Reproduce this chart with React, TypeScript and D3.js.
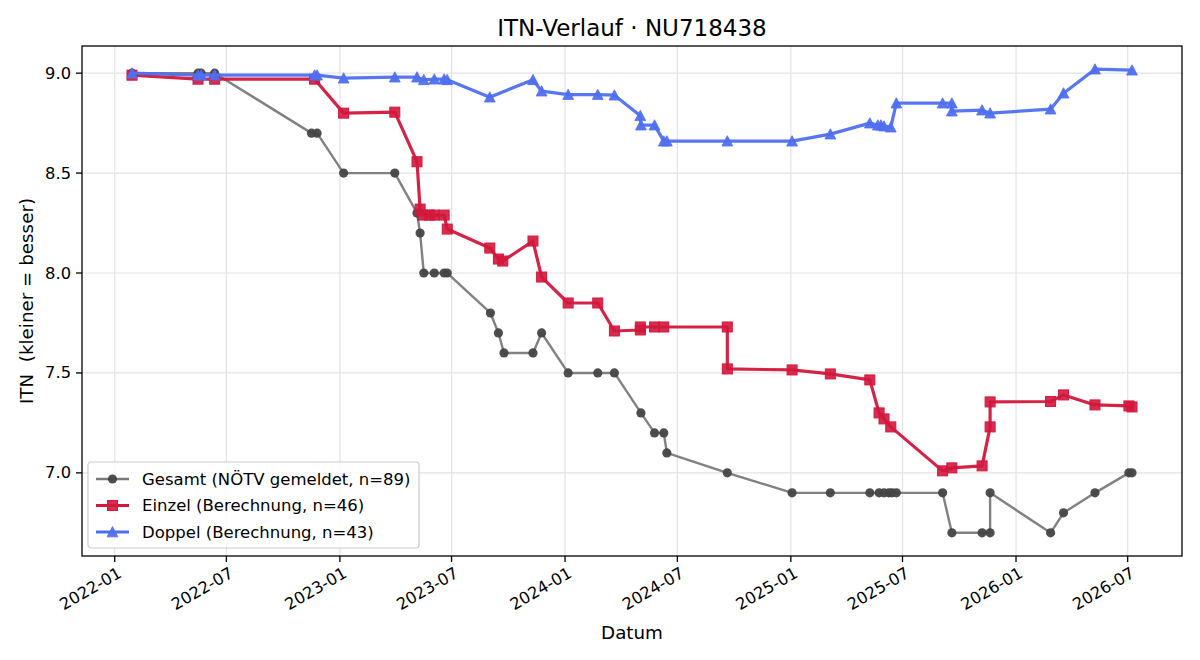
import React from 'react';
import * as d3 from 'd3';

// ITN history, three series
const gesamtDates = [
  '2022-01-29', '2022-05-16', '2022-05-21', '2022-06-12', '2022-11-16', '2022-11-25',
  '2023-01-07', '2023-03-31', '2023-05-06', '2023-05-11', '2023-05-17', '2023-06-03',
  '2023-06-19', '2023-06-24', '2023-09-02', '2023-09-15', '2023-09-24', '2023-11-10',
  '2023-11-24', '2024-01-06', '2024-02-23', '2024-03-21', '2024-05-03', '2024-05-25',
  '2024-06-09', '2024-06-14', '2024-09-20', '2025-01-03', '2025-03-06', '2025-05-09',
  '2025-05-24', '2025-06-01', '2025-06-09', '2025-06-14', '2025-06-21', '2025-09-04',
  '2025-09-19', '2025-11-07', '2025-11-20', '2025-11-20', '2026-02-26', '2026-03-19',
  '2026-05-09', '2026-07-03', '2026-07-08',
];
const gesamtValues = [
  9.0, 9.0, 9.0, 9.0, 8.7, 8.7,
  8.5, 8.5, 8.3, 8.2, 8.0, 8.0,
  8.0, 8.0, 7.8, 7.7, 7.6, 7.6,
  7.7, 7.5, 7.5, 7.5, 7.3, 7.2,
  7.2, 7.1, 7.0, 6.9, 6.9, 6.9,
  6.9, 6.9, 6.9, 6.9, 6.9, 6.9,
  6.7, 6.7, 6.7, 6.9, 6.7, 6.8,
  6.9, 7.0, 7.0,
];

const einzelDates = [
  '2022-01-29', '2022-05-16', '2022-06-12', '2022-11-21', '2023-01-07', '2023-03-31',
  '2023-05-06', '2023-05-11', '2023-05-15', '2023-05-26', '2023-06-03', '2023-06-19',
  '2023-06-24', '2023-09-01', '2023-09-15', '2023-09-22', '2023-11-10', '2023-11-24',
  '2024-01-06', '2024-02-23', '2024-03-21', '2024-05-02', '2024-05-02', '2024-05-25',
  '2024-06-09', '2024-09-20', '2024-09-20', '2025-01-03', '2025-03-06', '2025-05-09',
  '2025-05-24', '2025-06-01', '2025-06-12', '2025-09-04', '2025-09-19', '2025-11-07',
  '2025-11-20', '2025-11-20', '2026-02-26', '2026-03-19', '2026-05-09', '2026-07-03',
  '2026-07-08',
];
const einzelValues = [
  8.99, 8.97, 8.97, 8.97, 8.80, 8.805,
  8.557, 8.32, 8.29, 8.29, 8.29, 8.29,
  8.22, 8.125, 8.07, 8.06, 8.16, 7.98,
  7.85, 7.85, 7.71, 7.715, 7.73, 7.73,
  7.73, 7.73, 7.52, 7.515, 7.495, 7.465,
  7.30, 7.27, 7.23, 7.01, 7.025, 7.035,
  7.23, 7.355, 7.357, 7.39, 7.34, 7.335,
  7.33,
];

const doppelDates = [
  '2022-01-29', '2022-05-16', '2022-05-21', '2022-06-12', '2022-11-21', '2022-11-25',
  '2023-01-07', '2023-03-31', '2023-05-06', '2023-05-17', '2023-06-03', '2023-06-19',
  '2023-06-24', '2023-09-01', '2023-11-10', '2023-11-24', '2024-01-06', '2024-02-23',
  '2024-03-21', '2024-05-02', '2024-05-03', '2024-05-25', '2024-06-09', '2024-06-14',
  '2024-09-20', '2025-01-03', '2025-03-06', '2025-05-09', '2025-05-22', '2025-05-27',
  '2025-06-01', '2025-06-12', '2025-06-21', '2025-09-04', '2025-09-19', '2025-09-19',
  '2025-11-07', '2025-11-20', '2026-02-26', '2026-03-19', '2026-05-09', '2026-07-08',
];
const doppelValues = [
  9.0, 8.99, 8.99, 8.99, 8.99, 8.99,
  8.975, 8.98, 8.98, 8.967, 8.97, 8.97,
  8.967, 8.88, 8.967, 8.91, 8.893, 8.893,
  8.89, 8.787, 8.74, 8.74, 8.66, 8.66,
  8.66, 8.66, 8.695, 8.75, 8.74, 8.74,
  8.735, 8.73, 8.85, 8.85, 8.85, 8.81,
  8.815, 8.80, 8.82, 8.90, 9.02, 9.015,
];

const yTickValues = [7.0, 7.5, 8.0, 8.5, 9.0];
const legendLabels = [
  'Gesamt (NÖTV gemeldet, n=89)',
  'Einzel (Berechnung, n=46)',
  'Doppel (Berechnung, n=43)',
];

const W = 1200;
const H = 660;
const margin = { left: 82, right: 18, top: 46, bottom: 104 };
const FONT = 'DejaVu Sans, sans-serif';

type Pt = { date: Date; value: number };

const parse = d3.timeParse('%Y-%m-%d');
const toPoints = (dates: string[], values: number[]): Pt[] =>
  dates.map((d, i) => ({ date: parse(d) as Date, value: values[i] }));

const gesamt = toPoints(gesamtDates, gesamtValues);
const einzel = toPoints(einzelDates, einzelValues);
const doppel = toPoints(doppelDates, doppelValues);
const all = [...gesamt, ...einzel, ...doppel];

// 5% padding on both axes, like matplotlib's auto margins
const [dMin, dMax] = d3.extent(all, d => d.date.getTime()) as [number, number];
const dPad = (dMax - dMin) * 0.05;
const [vMin, vMax] = d3.extent(all, d => d.value) as [number, number];
const vPad = (vMax - vMin) * 0.05;

const x = d3.scaleTime()
  .domain([new Date(dMin - dPad), new Date(dMax + dPad)])
  .range([margin.left, W - margin.right]);
const y = d3.scaleLinear()
  .domain([vMin - vPad, vMax + vPad])
  .range([H - margin.bottom, margin.top]);

const line = d3.line<Pt>().x(d => x(d.date)).y(d => y(d.value));
const xTicks = d3.timeMonth.every(6)!.range(x.domain()[0], x.domain()[1]);
const fmtMonth = d3.timeFormat('%Y-%m');

const GRAY_LINE = '#7a7a7a';
const GRAY_MARK = '#454545';
const RED = '#d3173d';
const BLUE = '#4f6ff0';

const tri = (s: number) => `M0,${-s}L${-s},${s * 0.9}L${s},${s * 0.9}Z`;

const Marker = ({ kind, cx, cy }: { kind: string; cx: number; cy: number }) => {
  if (kind === 'circle') {
    return <circle cx={cx} cy={cy} r={4.6} fill={GRAY_MARK} fillOpacity={0.95} />;
  }
  if (kind === 'square') {
    return (
      <rect x={cx - 5} y={cy - 5} width={10} height={10} fill={RED} fillOpacity={0.9}
        stroke={RED} strokeWidth={1} />
    );
  }
  return (
    <path d={tri(5.4)} transform={`translate(${cx},${cy})`} fill={BLUE} fillOpacity={0.95}
      stroke={BLUE} strokeWidth={0.8} />
  );
};

const series = [
  { data: gesamt, stroke: GRAY_LINE, width: 2.4, kind: 'circle' },
  { data: einzel, stroke: RED, width: 3.2, kind: 'square' },
  { data: doppel, stroke: BLUE, width: 3.2, kind: 'triangle' },
];

const App: React.FC = () => {
  const plotBottom = H - margin.bottom;
  const plotRight = W - margin.right;
  const cxMid = (margin.left + plotRight) / 2;

  return (
    <svg width={W} height={H} style={{ position: 'absolute', left: 0, top: 0, background: '#fff' }}
      fontFamily={FONT}>
      <rect width={W} height={H} fill="#fff" />

      {/* grid */}
      {xTicks.map(t => (
        <line key={`gx${t.getTime()}`} x1={x(t)} x2={x(t)} y1={margin.top} y2={plotBottom}
          stroke="#e3e3e3" strokeWidth={1.2} />
      ))}
      {yTickValues.map(v => (
        <line key={`gy${v}`} x1={margin.left} x2={plotRight} y1={y(v)} y2={y(v)}
          stroke="#e3e3e3" strokeWidth={1.2} />
      ))}

      {/* series */}
      {series.map((s, i) => (
        <g key={i}>
          <path d={line(s.data) || ''} fill="none" stroke={s.stroke} strokeWidth={s.width}
            strokeLinejoin="round" strokeOpacity={0.95} />
          {s.data.map((d, j) => (
            <Marker key={j} kind={s.kind} cx={x(d.date)} cy={y(d.value)} />
          ))}
        </g>
      ))}

      {/* frame */}
      <rect x={margin.left} y={margin.top} width={plotRight - margin.left}
        height={plotBottom - margin.top} fill="none" stroke="#000" strokeWidth={1.3} />

      {/* x axis */}
      {xTicks.map(t => (
        <g key={`xt${t.getTime()}`}>
          <line x1={x(t)} x2={x(t)} y1={plotBottom} y2={plotBottom + 6} stroke="#000" strokeWidth={1.3} />
          <text transform={`translate(${x(t) + 2},${plotBottom + 10}) rotate(-30)`}
            textAnchor="end" dominantBaseline="hanging" fontSize={16.3} fill="#000">
            {fmtMonth(t)}
          </text>
        </g>
      ))}

      {/* y axis */}
      {yTickValues.map(v => (
        <g key={`yt${v}`}>
          <line x1={margin.left - 6} x2={margin.left} y1={y(v)} y2={y(v)} stroke="#000" strokeWidth={1.3} />
          <text x={margin.left - 11} y={y(v)} textAnchor="end" dominantBaseline="central"
            fontSize={16.3} fill="#000">
            {d3.format('.1f')(v)}
          </text>
        </g>
      ))}

      {/* titles */}
      <text x={cxMid} y={36} textAnchor="middle" fontSize={23} fill="#000">
        ITN-Verlauf · NU718438
      </text>
      <text x={cxMid} y={639} textAnchor="middle" fontSize={18.3} fill="#000">Datum</text>
      <text transform={`translate(33,${(margin.top + plotBottom) / 2}) rotate(-90)`}
        textAnchor="middle" fontSize={18.3} fill="#000" style={{ whiteSpace: 'pre' }}>
        {'ITN  (kleiner = besser)'}
      </text>

      {/* legend */}
      <g transform="translate(88,462)">
        <rect x={0} y={0} width={331} height={86} rx={3} fill="#fff" fillOpacity={0.85}
          stroke="#cccccc" strokeWidth={1.2} />
        {series.map((s, i) => {
          const cy = 17 + i * 26.5;
          return (
            <g key={i}>
              <line x1={8} x2={41} y1={cy} y2={cy} stroke={s.stroke} strokeWidth={s.width} />
              <Marker kind={s.kind} cx={24.5} cy={cy} />
              <text x={54} y={cy} dominantBaseline="central" fontSize={16.5} fill="#000">
                {legendLabels[i]}
              </text>
            </g>
          );
        })}
      </g>
    </svg>
  );
};

export default App;
